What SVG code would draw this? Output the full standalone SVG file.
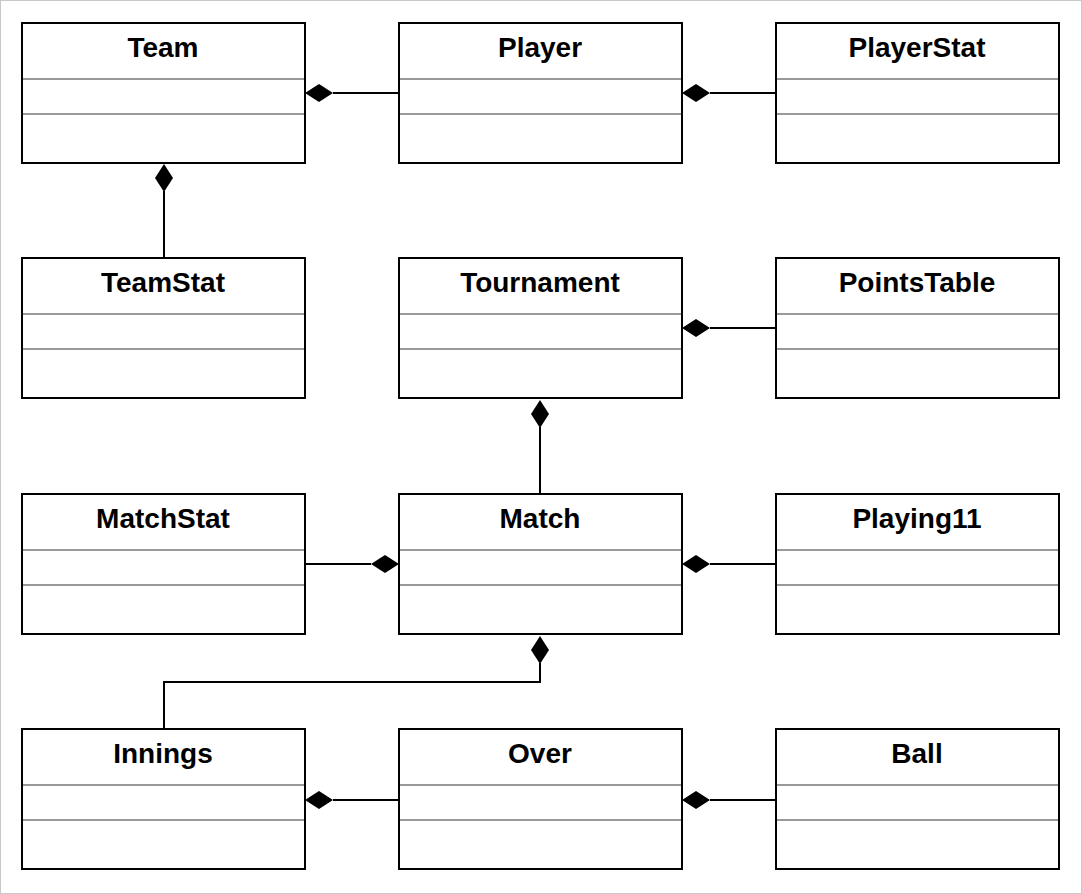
<svg xmlns="http://www.w3.org/2000/svg" width="1082" height="894" viewBox="0 0 1082 894">
<style>
.frame{fill:#fff;stroke:#c8c8c8;stroke-width:1}
.box{fill:#fff;stroke:#000;stroke-width:2}
.sep{stroke:#999;stroke-width:2}
.t{font-family:"Liberation Sans",Arial,Helvetica,sans-serif;font-weight:bold;font-size:28px;text-anchor:middle;fill:#000}
.c{fill:none;stroke:#000;stroke-width:2}
.d{fill:#000;stroke:none}
</style>
<defs>
<g id="cls">
<rect class="box" x="0" y="0" width="283" height="140"/>
<line class="sep" x1="1" y1="56" x2="282" y2="56"/>
<line class="sep" x1="1" y1="91" x2="282" y2="91"/>
</g>
<path id="dh" class="d" d="M0,0 L14,-9 L28,0 L14,9 Z"/>
<path id="dv" class="d" d="M0,0 L-9,14 L0,28 L9,14 Z"/>
</defs>
<rect class="frame" x="0.5" y="0.5" width="1081" height="893"/>
<g id="connectors">
<path class="c" d="M333,93 H399"/><use href="#dh" x="305" y="93"/>
<path class="c" d="M710,93 H776"/><use href="#dh" x="682" y="93"/>
<path class="c" d="M164,191 V258"/><use href="#dv" x="164" y="164"/>
<path class="c" d="M710,328 H776"/><use href="#dh" x="682" y="328"/>
<path class="c" d="M540,427 V494"/><use href="#dv" x="540" y="400"/>
<path class="c" d="M305,564 H371"/><use href="#dh" x="371" y="564"/>
<path class="c" d="M710,564 H776"/><use href="#dh" x="682" y="564"/>
<path class="c" d="M540,663 V682 H164 V729"/><use href="#dv" x="540" y="636"/>
<path class="c" d="M333,800 H399"/><use href="#dh" x="305" y="800"/>
<path class="c" d="M710,800 H776"/><use href="#dh" x="682" y="800"/>
</g>
<g id="Team"><use href="#cls" x="22" y="23"/><text class="t" x="163" y="57">Team</text></g>
<g id="Player"><use href="#cls" x="399" y="23"/><text class="t" x="540" y="57">Player</text></g>
<g id="PlayerStat"><use href="#cls" x="776" y="23"/><text class="t" x="917" y="57">PlayerStat</text></g>
<g id="TeamStat"><use href="#cls" x="22" y="258"/><text class="t" x="163" y="292">TeamStat</text></g>
<g id="Tournament"><use href="#cls" x="399" y="258"/><text class="t" x="540" y="292">Tournament</text></g>
<g id="PointsTable"><use href="#cls" x="776" y="258"/><text class="t" x="917" y="292">PointsTable</text></g>
<g id="MatchStat"><use href="#cls" x="22" y="494"/><text class="t" x="163" y="528">MatchStat</text></g>
<g id="Match"><use href="#cls" x="399" y="494"/><text class="t" x="540" y="528">Match</text></g>
<g id="Playing11"><use href="#cls" x="776" y="494"/><text class="t" x="917" y="528">Playing11</text></g>
<g id="Innings"><use href="#cls" x="22" y="729"/><text class="t" x="163" y="763">Innings</text></g>
<g id="Over"><use href="#cls" x="399" y="729"/><text class="t" x="540" y="763">Over</text></g>
<g id="Ball"><use href="#cls" x="776" y="729"/><text class="t" x="917" y="763">Ball</text></g>
</svg>
